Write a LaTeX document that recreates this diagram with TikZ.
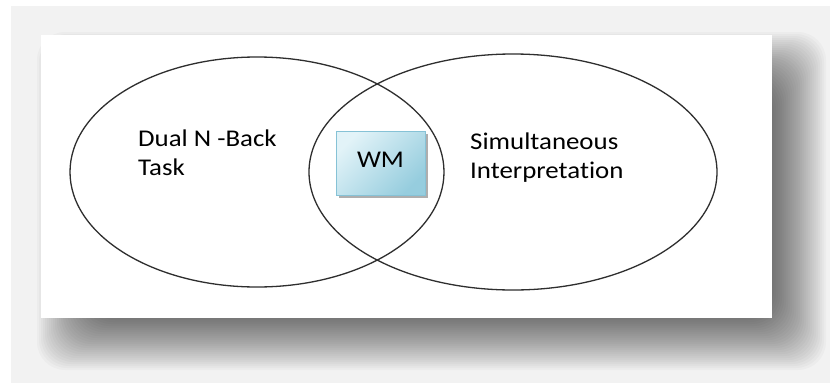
\documentclass[tikz,border=0pt]{standalone}
\usepackage{fontspec}
\newfontfamily\calib[FakeStretch=1.12,Ligatures=NoCommon]{Carlito}
\usetikzlibrary{shapes.geometric,shadows}

\definecolor{bggray}{HTML}{F2F2F2}
\definecolor{ringcol}{HTML}{2E2E2E}
\definecolor{wmlight}{HTML}{E2F3F8}
\definecolor{wmdark}{HTML}{96CDDE}
\definecolor{wmedge}{HTML}{86C2D6}

\tikzset{
  ring/.style={ellipse, draw=ringcol, line width=1.3pt, inner sep=0pt},
  venntext/.style={align=left, inner sep=0pt, font=\calib\fontsize{24}{29}\selectfont},
  wmbox/.style={draw=wmedge, line width=0.6pt, top color=wmlight, bottom color=wmdark,
    shading angle=45, minimum width=89pt, minimum height=64pt, inner sep=0pt,
    text depth=7pt, font=\calib\fontsize{24}{29}\selectfont,
    drop shadow={shadow xshift=3pt, shadow yshift=-3pt, fill=gray!70, opacity=0.9}}
}

\begin{document}
\begin{tikzpicture}[x=1pt,y=-1pt]
  \useasboundingbox (0,0) rectangle (830,383);
  % gray page behind the panel
  \fill[bggray] (11,6) rectangle (830,383);
  % soft shadow of the panel
  \foreach \k in {0,...,27}
    \fill[black, opacity=0.022, rounded corners=28pt]
      (65-28+2*\k,60-28+2*\k) rectangle (798+28-2*\k,342+28-2*\k);
  \fill[white] (41,35) rectangle (772,318);

  % the two sets
  \node[ring, minimum width=374pt, minimum height=230pt] (dual) at (257,172) {};
  \node[ring, minimum width=408pt, minimum height=236pt] (interp) at (513,172) {};

  \node[venntext, anchor=base west] (dualtxt) at (138,175) {Dual N -Back\\Task};
  \node[venntext, anchor=base west] (interptxt) at (470,178) {Simultaneous\\Interpretation};

  % overlap
  \node[wmbox] (wm) at (380.5,163) {WM};
\end{tikzpicture}
\end{document}
